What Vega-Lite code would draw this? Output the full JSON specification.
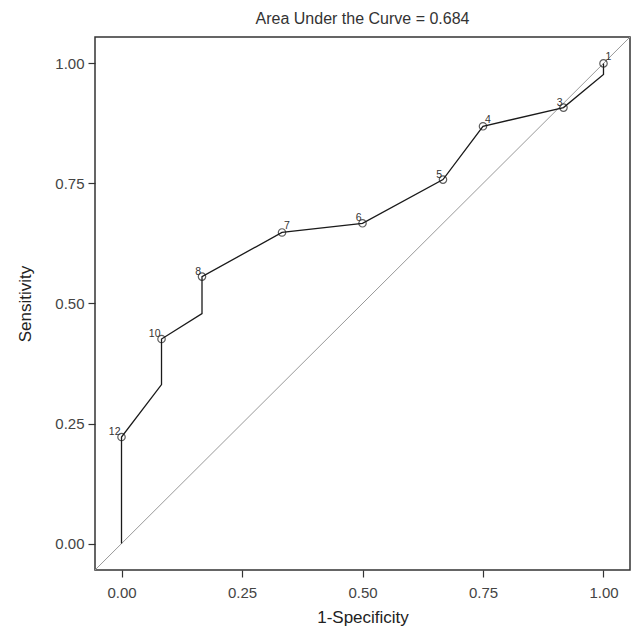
{
  "$schema": "https://vega.github.io/schema/vega-lite/v6.json",
  "autosize": "none",
  "width": 535,
  "height": 533,
  "padding": {"left": 95, "top": 37, "right": 5, "bottom": 59},
  "background": "white",
  "config": {
    "view": {"stroke": "#333", "strokeWidth": 1.5},
    "font": "Liberation Sans",
    "axis": {
      "grid": false,
      "domain": false,
      "tickColor": "#333",
      "tickSize": 7,
      "tickWidth": 1.2,
      "labelFontSize": 15,
      "labelColor": "#444",
      "titleFontSize": 17,
      "titleFontWeight": "normal",
      "titleColor": "#222"
    }
  },
  "title": {
    "text": "Area Under the Curve = 0.684",
    "fontSize": 16,
    "fontWeight": "normal",
    "color": "#333",
    "offset": 10,
    "anchor": "middle"
  },
  "datasets": {
    "path": [
      {"order": 0, "fpr": 0.0, "tpr": 0.0},
      {"order": 1, "fpr": 0.0, "tpr": 0.222},
      {"order": 2, "fpr": 0.083, "tpr": 0.331},
      {"order": 3, "fpr": 0.083, "tpr": 0.426},
      {"order": 4, "fpr": 0.167, "tpr": 0.479},
      {"order": 5, "fpr": 0.167, "tpr": 0.556},
      {"order": 6, "fpr": 0.333, "tpr": 0.648},
      {"order": 7, "fpr": 0.5, "tpr": 0.667},
      {"order": 8, "fpr": 0.667, "tpr": 0.758},
      {"order": 9, "fpr": 0.75, "tpr": 0.869},
      {"order": 10, "fpr": 0.917, "tpr": 0.908},
      {"order": 11, "fpr": 1.0, "tpr": 0.977},
      {"order": 12, "fpr": 1.0, "tpr": 1.0}
    ],
    "points": [
      {"label": "1", "fpr": 1.0, "tpr": 1.0},
      {"label": "3", "fpr": 0.917, "tpr": 0.908},
      {"label": "4", "fpr": 0.75, "tpr": 0.869},
      {"label": "5", "fpr": 0.667, "tpr": 0.758},
      {"label": "6", "fpr": 0.5, "tpr": 0.667},
      {"label": "7", "fpr": 0.333, "tpr": 0.648},
      {"label": "8", "fpr": 0.167, "tpr": 0.556},
      {"label": "10", "fpr": 0.083, "tpr": 0.426},
      {"label": "12", "fpr": 0.0, "tpr": 0.222}
    ],
    "diag": [
      {"fpr": -0.055, "tpr": -0.055},
      {"fpr": 1.055, "tpr": 1.055}
    ]
  },
  "encoding": {
    "x": {
      "field": "fpr",
      "type": "quantitative",
      "scale": {"domain": [-0.055, 1.055], "nice": false, "zero": false},
      "axis": {"values": [0, 0.25, 0.5, 0.75, 1], "format": ".2f", "title": "1-Specificity", "labelPadding": 8, "titlePadding": 9}
    },
    "y": {
      "field": "tpr",
      "type": "quantitative",
      "scale": {"domain": [-0.055, 1.055], "nice": false, "zero": false},
      "axis": {"values": [0, 0.25, 0.5, 0.75, 1], "format": ".2f", "title": "Sensitivity", "labelPadding": 4, "titlePadding": 20}
    }
  },
  "layer": [
    {
      "data": {"name": "diag"},
      "mark": {"type": "line", "color": "#999", "strokeWidth": 1, "clip": true},
      "encoding": {}
    },
    {
      "data": {"name": "path"},
      "mark": {"type": "line", "color": "#1a1a1a", "strokeWidth": 1.3},
      "encoding": {"order": {"field": "order", "type": "quantitative"}}
    },
    {
      "data": {"name": "points"},
      "mark": {"type": "point", "shape": "circle", "filled": false, "color": "#1a1a1a", "strokeWidth": 1.2, "size": 55}
    },
    {
      "data": {"name": "points"},
      "transform": [{"filter": "datum.label == '1' || datum.label == '4' || datum.label == '7'"}],
      "mark": {"type": "text", "align": "left", "baseline": "bottom", "dx": 2, "dy": -1, "fontSize": 10.5, "color": "#333"},
      "encoding": {"text": {"field": "label"}}
    },
    {
      "data": {"name": "points"},
      "transform": [{"filter": "datum.label != '1' && datum.label != '4' && datum.label != '7'"}],
      "mark": {"type": "text", "align": "right", "baseline": "bottom", "dx": -1, "dy": 0, "fontSize": 10.5, "color": "#333"},
      "encoding": {"text": {"field": "label"}}
    }
  ]
}
